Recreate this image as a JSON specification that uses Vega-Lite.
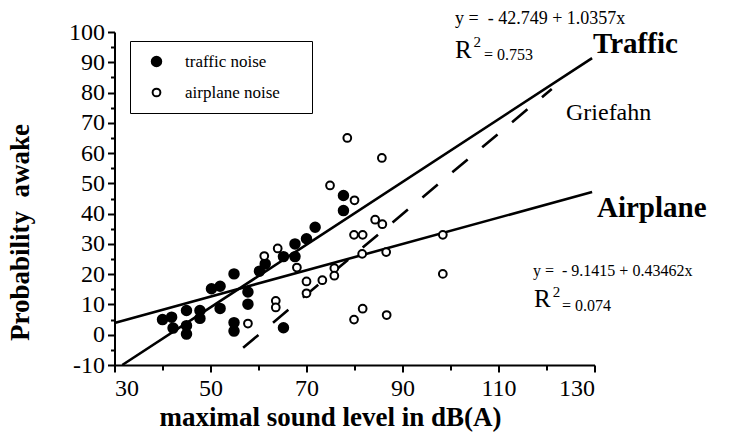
{
  "$schema": "https://vega.github.io/schema/vega-lite/v6.json",
  "width": 480,
  "height": 333,
  "autosize": "none",
  "padding": {"left": 114.5, "top": 32, "right": 134.5, "bottom": 70},
  "background": "white",
  "config": {
    "view": {"stroke": null},
    "font": "Liberation Serif",
    "axis": {
      "domainColor": "black", "domainWidth": 2, "tickColor": "black", "tickWidth": 2,
      "labelColor": "black", "labelFont": "Liberation Serif", "labelFontSize": 24,
      "titleColor": "black", "titleFont": "Liberation Serif", "titleFontWeight": "bold",
      "grid": false, "labelOverlap": false
    }
  },
  "datasets": {
    "points": [
      {"dB": 40.0, "awake": 5.0, "type": "traffic noise"},
      {"dB": 41.9, "awake": 5.8, "type": "traffic noise"},
      {"dB": 42.2, "awake": 2.2, "type": "traffic noise"},
      {"dB": 45.0, "awake": 8.0, "type": "traffic noise"},
      {"dB": 45.0, "awake": 3.0, "type": "traffic noise"},
      {"dB": 45.0, "awake": 0.2, "type": "traffic noise"},
      {"dB": 47.8, "awake": 8.0, "type": "traffic noise"},
      {"dB": 47.8, "awake": 5.4, "type": "traffic noise"},
      {"dB": 50.2, "awake": 15.2, "type": "traffic noise"},
      {"dB": 52.0, "awake": 16.0, "type": "traffic noise"},
      {"dB": 52.0, "awake": 8.7, "type": "traffic noise"},
      {"dB": 54.9, "awake": 20.1, "type": "traffic noise"},
      {"dB": 54.9, "awake": 4.0, "type": "traffic noise"},
      {"dB": 54.9, "awake": 1.2, "type": "traffic noise"},
      {"dB": 57.8, "awake": 14.1, "type": "traffic noise"},
      {"dB": 57.8, "awake": 10.1, "type": "traffic noise"},
      {"dB": 60.2, "awake": 21.0, "type": "traffic noise"},
      {"dB": 61.4, "awake": 23.4, "type": "traffic noise"},
      {"dB": 65.2, "awake": 25.8, "type": "traffic noise"},
      {"dB": 65.2, "awake": 2.3, "type": "traffic noise"},
      {"dB": 67.6, "awake": 30.0, "type": "traffic noise"},
      {"dB": 67.6, "awake": 25.8, "type": "traffic noise"},
      {"dB": 70.0, "awake": 31.7, "type": "traffic noise"},
      {"dB": 71.8, "awake": 35.5, "type": "traffic noise"},
      {"dB": 77.7, "awake": 46.0, "type": "traffic noise"},
      {"dB": 77.7, "awake": 41.0, "type": "traffic noise"},
      {"dB": 57.8, "awake": 3.7, "type": "airplane noise"},
      {"dB": 61.2, "awake": 26.0, "type": "airplane noise"},
      {"dB": 64.0, "awake": 28.5, "type": "airplane noise"},
      {"dB": 63.6, "awake": 11.2, "type": "airplane noise"},
      {"dB": 63.6, "awake": 9.0, "type": "airplane noise"},
      {"dB": 68.0, "awake": 22.2, "type": "airplane noise"},
      {"dB": 70.0, "awake": 17.6, "type": "airplane noise"},
      {"dB": 70.0, "awake": 13.7, "type": "airplane noise"},
      {"dB": 73.3, "awake": 18.0, "type": "airplane noise"},
      {"dB": 75.8, "awake": 22.0, "type": "airplane noise"},
      {"dB": 75.8, "awake": 19.5, "type": "airplane noise"},
      {"dB": 74.9, "awake": 49.3, "type": "airplane noise"},
      {"dB": 78.5, "awake": 65.0, "type": "airplane noise"},
      {"dB": 85.7, "awake": 58.4, "type": "airplane noise"},
      {"dB": 80.0, "awake": 44.4, "type": "airplane noise"},
      {"dB": 84.3, "awake": 38.0, "type": "airplane noise"},
      {"dB": 85.8, "awake": 36.5, "type": "airplane noise"},
      {"dB": 79.9, "awake": 33.0, "type": "airplane noise"},
      {"dB": 81.7, "awake": 33.0, "type": "airplane noise"},
      {"dB": 81.6, "awake": 26.7, "type": "airplane noise"},
      {"dB": 86.6, "awake": 27.3, "type": "airplane noise"},
      {"dB": 98.4, "awake": 33.0, "type": "airplane noise"},
      {"dB": 98.4, "awake": 20.1, "type": "airplane noise"},
      {"dB": 81.7, "awake": 8.6, "type": "airplane noise"},
      {"dB": 79.9, "awake": 5.0, "type": "airplane noise"},
      {"dB": 86.7, "awake": 6.5, "type": "airplane noise"}
    ],
    "fits": [
      {"series": "Traffic", "dB": 31.62, "awake": -10},
      {"series": "Traffic", "dB": 129.5, "awake": 91.37},
      {"series": "Airplane", "dB": 30, "awake": 3.9},
      {"series": "Airplane", "dB": 129.5, "awake": 47.14}
    ],
    "griefahn": [
      {"dB": 56.8, "awake": -4.3},
      {"dB": 121.1, "awake": 81.2}
    ],
    "notes": [
      {"note": "eqT", "label": "y =\u00a0 - 42.749 + 1.0357x", "dB": 100.94, "awake": 102.64},
      {"note": "RT", "label": "R", "dB": 100.94, "awake": 91.41},
      {"note": "supT", "label": "2", "dB": 104.8, "awake": 95.05},
      {"note": "valT", "label": "= 0.753", "dB": 106.98, "awake": 90.75},
      {"note": "nameT", "label": "Traffic", "dB": 129.69, "awake": 93.06},
      {"note": "nameG", "label": "Griefahn", "dB": 124.06, "awake": 70.93},
      {"note": "nameA", "label": "Airplane", "dB": 130.52, "awake": 38.89},
      {"note": "eqA", "label": "y =\u00a0 - 9.1415 + 0.43462x", "dB": 117.19, "awake": 19.4},
      {"note": "RA", "label": "R", "dB": 117.4, "awake": 9.16},
      {"note": "supA", "label": "2", "dB": 121.3, "awake": 12.46},
      {"note": "valA", "label": "= 0.074", "dB": 123.23, "awake": 7.84}
    ]
  },
  "encoding": {
    "x": {"field": "dB", "type": "quantitative",
      "scale": {"domain": [30, 130], "nice": false, "zero": false},
      "axis": {
        "values": [30, 40, 50, 60, 70, 80, 90, 100, 110, 120, 130],
        "labelExpr": "datum.value % 20 == 10 ? datum.label : ''",
        "labelOverlap": false,
        "tickSize": {"condition": {"test": "datum.value % 20 == 10", "value": 7}, "value": 5},
        "labelPadding": 4,
        "title": "maximal sound level in dB(A)", "titleFontSize": 27, "titlePadding": 4,
        "titleX": 215.5
      }},
    "y": {"field": "awake", "type": "quantitative",
      "scale": {"domain": [-10, 100], "nice": false, "zero": false},
      "axis": {
        "values": [-10, -5, 0, 5, 10, 15, 20, 25, 30, 35, 40, 45, 50, 55, 60, 65, 70, 75, 80, 85, 90, 95, 100],
        "labelExpr": "datum.value % 10 == 0 ? replace(datum.label, '\u2212', '-') : ''",
        "labelOverlap": false,
        "tickSize": {"condition": {"test": "datum.value % 10 == 0", "value": 7}, "value": 4},
        "labelPadding": 3,
        "title": "Probability\u00a0 awake", "titleFontSize": 27, "titlePadding": 34,
        "titleY": 200
      }}
  },
  "layer": [
    {
      "data": {"name": "fits"},
      "mark": {"type": "line", "color": "black", "strokeWidth": 2.6, "clip": false},
      "encoding": {"detail": {"field": "series"}}
    },
    {
      "data": {"name": "griefahn"},
      "mark": {"type": "line", "color": "black", "strokeWidth": 2.6, "strokeDash": [20, 19]},
      "encoding": {}
    },
    {
      "data": {"name": "points"},
      "mark": {"type": "point", "shape": "circle", "filled": true, "stroke": "black", "strokeWidth": 2, "opacity": 1},
      "encoding": {
        "fill": {"field": "type", "type": "nominal",
          "scale": {"domain": ["traffic noise", "airplane noise"], "range": ["black", "white"]},
          "legend": {"orient": "none", "legendX": 15.5, "legendY": 9, "strokeColor": "black",
            "padding": 12, "symbolOffset": 6, "labelOffset": 20, "rowPadding": 12,
            "labelFont": "Liberation Serif", "labelFontSize": 17, "labelColor": "black",
            "symbolStrokeColor": "black", "symbolStrokeWidth": 2,
            "title": "\u00a0", "titleOrient": "right", "titlePadding": 20, "titleFontSize": 4}},
        "size": {"field": "type", "type": "nominal",
          "scale": {"domain": ["traffic noise", "airplane noise"], "range": [90, 60]}}
      }
    },
    {
      "data": {"name": "notes"},
      "transform": [{"filter": "datum.note == 'eqT'"}],
      "mark": {"type": "text", "align": "left", "baseline": "alphabetic", "fontSize": 18, "color": "black"},
      "encoding": {"text": {"field": "label"}}
    },
    {
      "data": {"name": "notes"},
      "transform": [{"filter": "datum.note == 'RT' || datum.note == 'RA'"}],
      "mark": {"type": "text", "align": "left", "baseline": "alphabetic", "fontSize": 25, "color": "black"},
      "encoding": {"text": {"field": "label"}}
    },
    {
      "data": {"name": "notes"},
      "transform": [{"filter": "datum.note == 'supT' || datum.note == 'supA'"}],
      "mark": {"type": "text", "align": "left", "baseline": "alphabetic", "fontSize": 15, "color": "black"},
      "encoding": {"text": {"field": "label"}}
    },
    {
      "data": {"name": "notes"},
      "transform": [{"filter": "datum.note == 'valT' || datum.note == 'valA'"}],
      "mark": {"type": "text", "align": "left", "baseline": "alphabetic", "fontSize": 16, "color": "black"},
      "encoding": {"text": {"field": "label"}}
    },
    {
      "data": {"name": "notes"},
      "transform": [{"filter": "datum.note == 'nameT' || datum.note == 'nameA'"}],
      "mark": {"type": "text", "align": "left", "baseline": "alphabetic", "fontSize": 29, "fontWeight": "bold", "color": "black"},
      "encoding": {"text": {"field": "label"}}
    },
    {
      "data": {"name": "notes"},
      "transform": [{"filter": "datum.note == 'nameG'"}],
      "mark": {"type": "text", "align": "left", "baseline": "alphabetic", "fontSize": 24, "color": "black"},
      "encoding": {"text": {"field": "label"}}
    },
    {
      "data": {"name": "notes"},
      "transform": [{"filter": "datum.note == 'eqA'"}],
      "mark": {"type": "text", "align": "left", "baseline": "alphabetic", "fontSize": 16, "color": "black"},
      "encoding": {"text": {"field": "label"}}
    }
  ]
}
